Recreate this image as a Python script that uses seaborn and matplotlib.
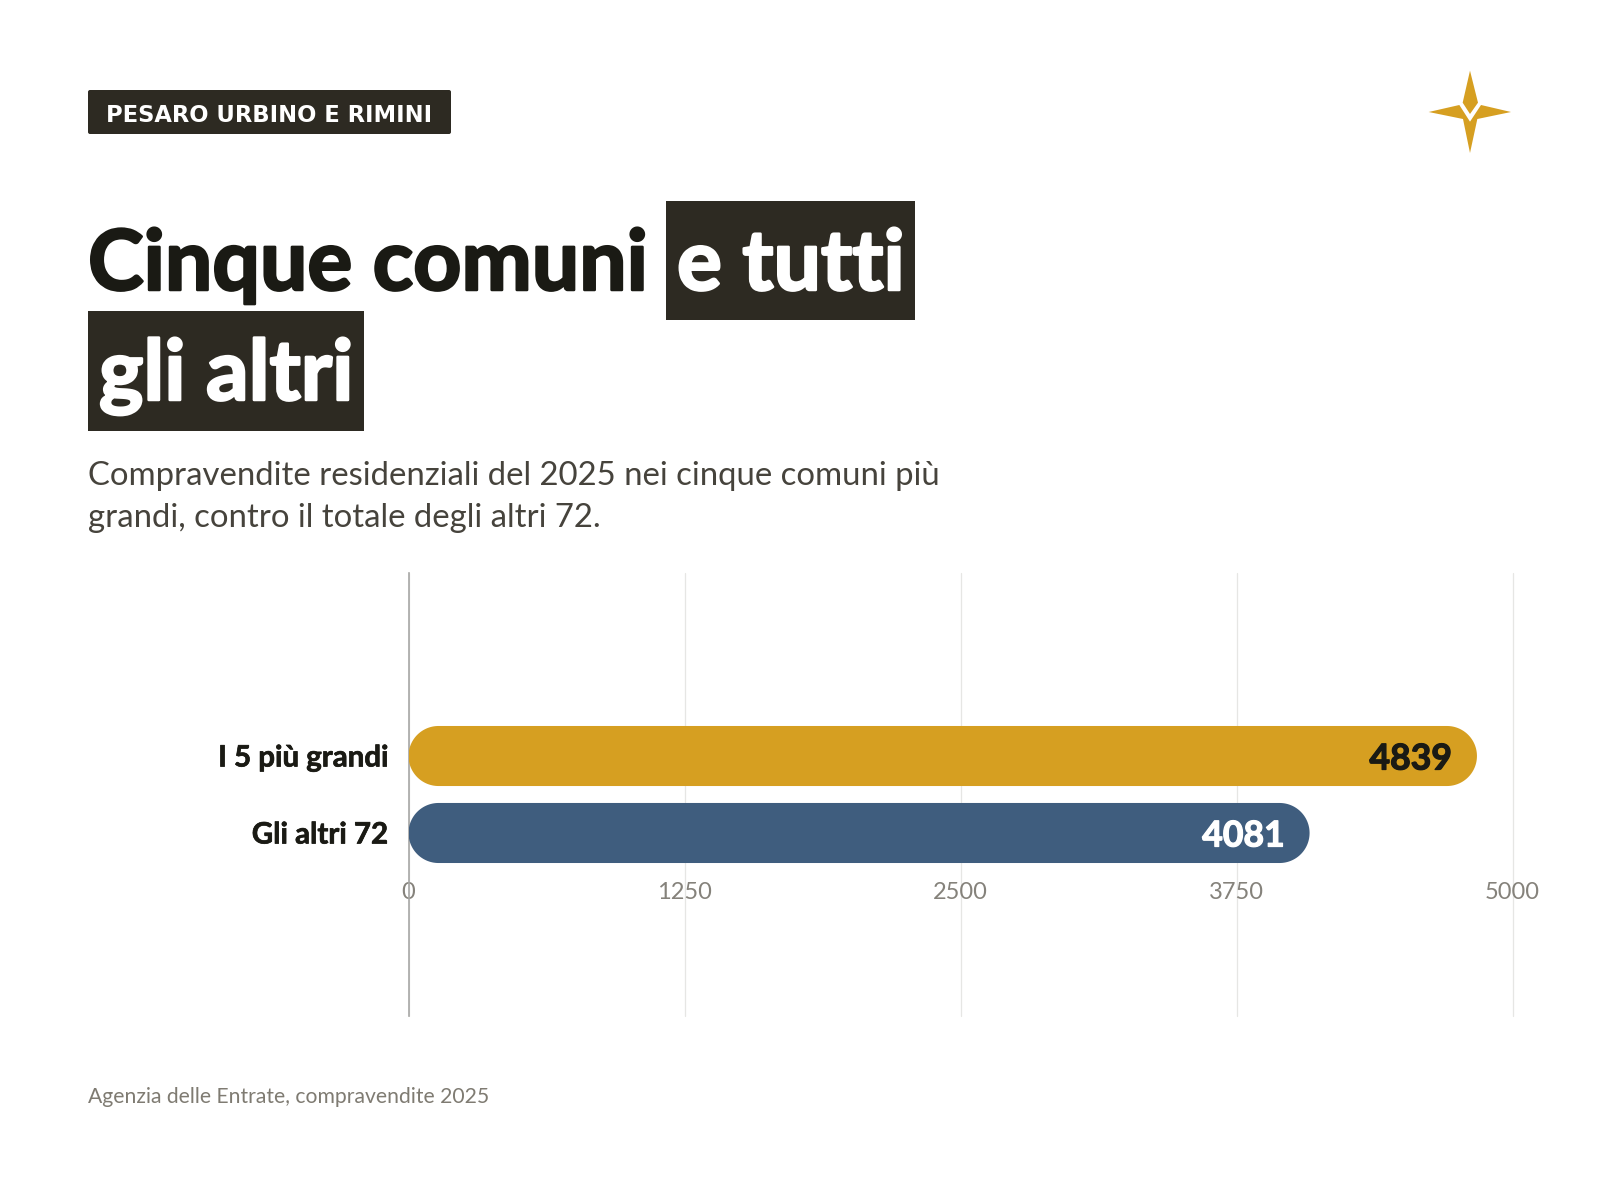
import matplotlib
matplotlib.use("Agg")
import matplotlib.pyplot as plt
from matplotlib.patches import FancyBboxPatch, Polygon, Rectangle
import matplotlib.patheffects as pe
import numpy as np
import pandas as pd
import seaborn as sns

categories = ["I 5 più grandi", "Gli altri 72"]
values = [4839, 4081]
bar_colors = ["#D69F21", "#3F5D7E"]
value_colors = ["#1A1A14", "#FFFFFF"]
ticks = [0, 1250, 2500, 3750, 5000]

badge = "PESARO URBINO E RIMINI"
title_a = "Cinque comuni"
title_b = "e tutti"
title_c = "gli altri"
sub_a = "Compravendite residenziali del 2025 nei cinque comuni più"
sub_b = "grandi, contro il totale degli altri 72."
source = "Agenzia delle Entrate, compravendite 2025"

DARK = "#2D2A22"
INK = "#1A1A14"
W, H = 1600, 1200
FONT = "Lato"

sns.set_theme(style="white")
plt.rcParams["font.family"] = [FONT, "DejaVu Sans"]

fig = plt.figure(figsize=(16, 12), dpi=100, facecolor="white")

bg = fig.add_axes([0, 0, 1, 1], zorder=0)
bg.set_xlim(0, W)
bg.set_ylim(H, 0)
bg.axis("off")

L, R, T, B = 408.5, 1512.5, 573, 1016
Y_TOP, Y_BOT = -2.377, 3.377
ax = fig.add_axes([L / W, 1 - B / H, (R - L) / W, (B - T) / H], zorder=1)
ax.patch.set_alpha(0)
df = pd.DataFrame({"cat": categories, "val": values})
sns.barplot(data=df, y="cat", x="val", hue="cat", palette=bar_colors, width=0.78,
            saturation=1, legend=False, ax=ax, zorder=3)
ax.set_xlim(0, 5000)
ax.set_ylim(Y_BOT, Y_TOP)
ax.set_xlabel("")
ax.set_ylabel("")
ax.set_xticks(ticks)
ax.set_xticklabels([str(t) for t in ticks])
ax.grid(axis="x", color="#E6E6E4", lw=0.9, zorder=0)
for gl in ax.get_xgridlines():
    gl.set_clip_on(False)
ax.set_axisbelow(True)
for s in ["top", "right", "bottom"]:
    ax.spines[s].set_visible(False)
ax.spines["left"].set_color("#A8A8A6")
ax.spines["left"].set_linewidth(1.2)
ax.tick_params(axis="x", length=0, pad=-96.7, labelsize=17, labelcolor="#85827B")
ax.tick_params(axis="y", length=0, pad=15, labelsize=21.2, labelcolor=INK)
for lab in ax.get_yticklabels():
    lab.set_fontweight("bold")
    lab.set_path_effects([pe.withStroke(linewidth=0.5, foreground=INK)])

# turn the seaborn bars into pills, from their own extents
xpx = 5000 / (R - L)
ypx = (Y_BOT - Y_TOP) / (B - T)
ang = np.linspace(-np.pi / 2, np.pi / 2, 60)
bars = list(ax.patches)
for bar, v, vc in zip(bars, values, value_colors):
    x0, y0, w, h = bar.get_x(), bar.get_y(), bar.get_width(), bar.get_height()
    ry = h / 2
    rx = (ry / ypx) * xpx
    yc = y0 + ry
    right = np.column_stack([x0 + w - rx + rx * np.cos(ang), yc + ry * np.sin(ang)])
    left = np.column_stack([x0 + rx - rx * np.cos(ang[::-1]), yc + ry * np.sin(ang[::-1])])
    pill = Polygon(np.vstack([right, left]), closed=True, fc=bar.get_facecolor(), ec="none", zorder=3)
    bar.remove()
    ax.add_patch(pill)
    t = ax.text(v - 25 * xpx, yc, str(v), ha="right", va="center_baseline",
                fontsize=25.6, fontweight="bold", color=vc, zorder=4)
    t.set_path_effects([pe.withStroke(linewidth=0.9, foreground=vc)])

heavy = lambda c: [pe.withStroke(linewidth=1.8, foreground=c)]

# badge
bg.add_patch(FancyBboxPatch((88, 90), 363, 44, boxstyle="round,pad=0,rounding_size=2", fc=DARK, ec="none"))
bg.text(106, 112.5, badge, fontsize=16.3, fontweight="bold", color="white", family=["DejaVu Sans"],
        va="center_baseline", ha="left")

# title
bg.add_patch(Rectangle((666, 201), 249, 119, fc=DARK, ec="none"))
bg.add_patch(Rectangle((88, 311), 276, 120, fc=DARK, ec="none"))
for x, y, s, c in [(88, 290, title_a, INK), (677, 290, title_b, "white"), (99, 400, title_c, "white")]:
    t = bg.text(x, y, s, fontsize=60.5, fontweight="bold", color=c, va="baseline", ha="left")
    t.set_path_effects(heavy(c))

# subtitle and source
bg.text(88, 485, sub_a, fontsize=23.7, color="#46433C", va="baseline", ha="left")
bg.text(88, 527, sub_b, fontsize=23.7, color="#46433C", va="baseline", ha="left")
bg.text(88, 1103, source, fontsize=15.2, color="#7F7B72", va="baseline", ha="left")

# star mark
cx, cy = 1380, 50
upper = [(270, 62), (294, 158), (270, 192), (248, 158)]
lower = [(146, 186), (238, 165), (270, 215), (303, 165), (393, 186), (292, 207), (270, 309), (249, 207)]
for shape in (upper, lower):
    bg.add_patch(Polygon([(cx + a / 3, cy + b / 3) for a, b in shape], closed=True, fc="#D69F21", ec="none"))

fig.savefig("out.png", dpi=100, facecolor="white")
